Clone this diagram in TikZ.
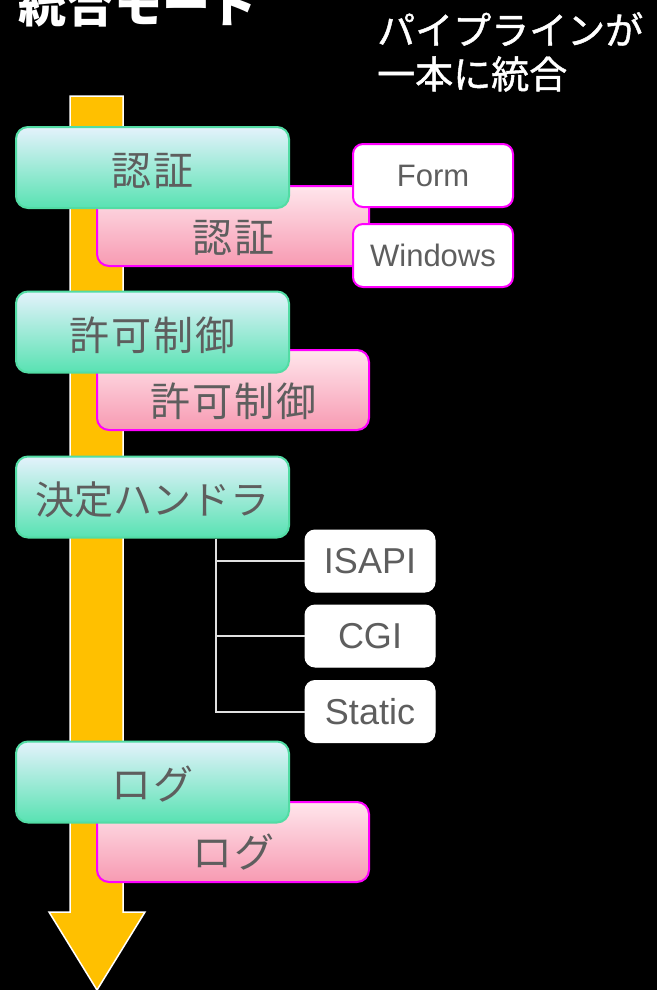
\documentclass[tikz,border=0pt]{standalone}
\usepackage{fontspec}
\setmainfont{Liberation Sans}
\newfontfamily\jp{Noto Sans CJK JP}
\newfontfamily\jpm[FakeBold=1.2]{Noto Sans CJK JP}
\newfontfamily\jpsp[LetterSpace=5]{Noto Sans CJK JP}
\definecolor{grnt}{HTML}{E4F2FC}
\definecolor{grnbot}{HTML}{58E2B2}
\definecolor{grnbd}{HTML}{52DCA4}
\definecolor{pnkt}{HTML}{FFE6EC}
\definecolor{pnkbot}{HTML}{F79AB2}
\definecolor{mag}{HTML}{FF00FF}
\definecolor{txtg}{HTML}{5E5E5E}
\definecolor{arrowc}{HTML}{FFC000}
\tikzset{
  greenbox/.style={draw=grnbd, line width=2pt, rounded corners=12pt, top color=grnt, bottom color=grnbot, minimum width=273pt, minimum height=81pt, inner sep=0pt},
  pinkbox/.style={draw=mag, line width=2pt, rounded corners=12pt, top color=pnkt, bottom color=pnkbot, minimum width=272pt, minimum height=80pt, inner sep=0pt},
  optbox/.style={draw=mag, line width=2pt, fill=white, rounded corners=10pt, minimum width=160pt, minimum height=63pt, inner sep=0pt, text=txtg, font=\fontsize{31}{36}\selectfont},
  hbox/.style={draw=white, line width=1pt, fill=white, rounded corners=10pt, minimum width=130pt, minimum height=62pt, inner sep=0pt, text=txtg, font=\fontsize{36}{40}\selectfont},
  jtxt/.style={text=txtg, font=\jpsp\fontsize{40}{44}\selectfont, inner sep=0pt},
  jtxtn/.style={text=txtg, font=\jp\fontsize{39}{44}\selectfont, inner sep=0pt},
  treeline/.style={draw=white!88!black, line width=2pt},
  titletxt/.style={text=white, inner sep=0pt, align=left}
}
\begin{document}
\begin{tikzpicture}[x=1pt,y=-1pt]
\useasboundingbox[fill=black] (0,0) rectangle (657,990);
% titles
\node[titletxt, anchor=west, font=\jp\bfseries\fontsize{48}{52}\selectfont] (title) at (18,4) {統合モード};
\node[titletxt, anchor=north west, font=\jpm\fontsize{38}{44}\selectfont] (sub) at (377,12) {パイプラインが\\一本に統合};
% main arrow
\draw[white, line width=1.5pt, fill=arrowc, line join=miter] (70,96) -- (123,96) -- (123,912) -- (145,912) -- (97,990) -- (49,912) -- (70,912) -- cycle;
% auth
\node[pinkbox] (p1) at (233,226) {};
\node[jtxt] at ([yshift=-12pt]p1.center) {認証};
\node[greenbox] (g1) at (152.5,167.5) {};
\node[jtxt] at ([yshift=-3pt]g1.center) {認証};
\node[optbox] (form) at (433,175.5) {Form};
\node[optbox] (win) at (433,255.5) {Windows};
% authorization
\node[pinkbox] (p2) at (233,390) {};
\node[jtxt] at ([yshift=-11pt]p2.center) {許可制御};
\node[greenbox] (g2) at (152.5,332) {};
\node[jtxt] at ([yshift=-3pt]g2.center) {許可制御};
% handler
\node[greenbox] (g3) at (152.5,497) {};
\node[jtxtn] at ([yshift=-3pt]g3.center) {決定ハンドラ};
\node[hbox] (isapi) at (370,561) {ISAPI};
\node[hbox] (cgi) at (370,636) {CGI};
\node[hbox] (static) at (370,711.5) {Static};
\coordinate (tr) at ([xshift=63.5pt]g3.south);
\draw[treeline] (tr) |- (isapi.west);
\draw[treeline] (tr) |- (cgi.west);
\draw[treeline] (tr) |- (static.west);
% log
\node[pinkbox] (p4) at (233,842) {};
\node[jtxt] at ([yshift=-10pt]p4.center) {ログ};
\node[greenbox] (g4) at (152.5,782) {};
\node[jtxt] at ([yshift=-2pt]g4.center) {ログ};
\end{tikzpicture}
\end{document}
